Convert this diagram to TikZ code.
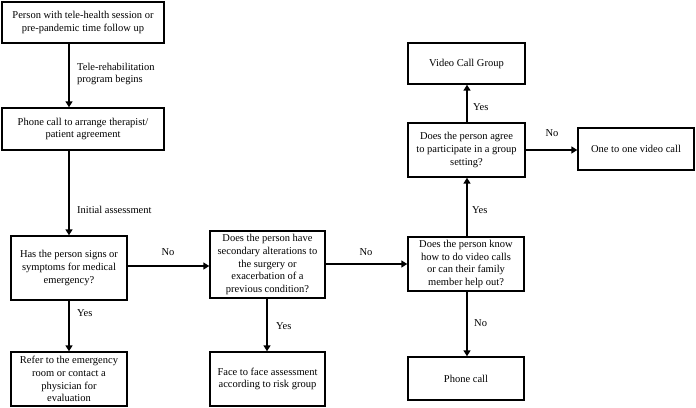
\documentclass[tikz,border=0pt]{standalone}
\usepackage{fontspec}
\setmainfont{Liberation Serif}
\usetikzlibrary{arrows.meta,calc}
\begin{document}
\begin{tikzpicture}[x=1pt,y=-1pt,
  box/.style={draw,line width=1.4pt,align=center,inner sep=2pt,
    font=\fontsize{10.5}{12.8}\selectfont},
  arr/.style={line width=2.8pt,-{Triangle[length=6pt,width=7pt]}},
  lbl/.style={font=\fontsize{10.5}{12.8}\selectfont,inner sep=0pt}]
\useasboundingbox (0,0) rectangle (696,407);
\node[box,minimum width=162pt,minimum height=41pt] (b1) at (83,22.5)
  {Person with tele-health session or\\pre-pandemic time follow up};
\node[box,minimum width=162pt,minimum height=42pt] (b2) at (83,129)
  {Phone call to arrange therapist/\\patient agreement};
\node[box,minimum width=116pt,minimum height=64pt] (b3) at (69,268)
  {Has the person signs or\\symptoms for medical\\emergency?};
\node[box,minimum width=116pt,minimum height=54pt] (b4) at (69,379)
  {Refer to the emergency\\room or contact a\\physician for\\evaluation};
\node[box,minimum width=115pt,minimum height=67pt] (b5) at (267.5,264.5)
  {Does the person have\\secondary alterations to\\the surgery or\\exacerbation of a\\previous condition?};
\node[box,minimum width=115pt,minimum height=54pt] (b6) at (267.5,379)
  {Face to face assessment\\according to risk group};
\node[box,minimum width=116pt,minimum height=54pt] (b7) at (466,264)
  {Does the person know\\how to do video calls\\or can their family\\member help out?};
\node[box,minimum width=116pt,minimum height=43pt] (b8) at (466,378.5)
  {Phone call};
\node[box,minimum width=117pt,minimum height=54pt] (b9) at (466.5,150)
  {Does the person agree\\to participate in a group\\setting?};
\node[box,minimum width=117pt,minimum height=41pt] (b10) at (466.5,63.5)
  {Video Call Group};
\node[box,minimum width=116pt,minimum height=42pt] (b11) at (636,149)
  {One to one video call};
% connectors
\draw[arr] (b1.south -| b3) -- (b2.north -| b3);
\draw[arr] (b2.south -| b3) -- (b3.north);
\draw[arr] (b3.south) -- (b4.north);
\draw[arr] (b3.east |- 0,266) -- (b5.west |- 0,266);
\draw[arr] (b5.south -| 267,0) -- (b6.north -| 267,0);
\draw[arr] (b5.east |- 0,264) -- (b7.west |- 0,264);
\draw[arr] (b7.south -| 467,0) -- (b8.north -| 467,0);
\draw[arr] (b7.north -| 467,0) -- (b9.south -| 467,0);
\draw[arr] (b9.north -| 467,0) -- (b10.south -| 467,0);
\draw[arr] (b9.east) -- (b11.west |- b9.east);
% labels
\node[lbl,anchor=west,align=left] (l1) at (77,74) {Tele-rehabilitation\\program begins};
\node[lbl,anchor=west] (l2) at (77,210) {Initial assessment};
\node[lbl,anchor=west] (l3) at (77,313) {Yes};
\node[lbl] (l4) at (168,252) {No};
\node[lbl,anchor=west] (l5) at (276,326) {Yes};
\node[lbl] (l6) at (366,252) {No};
\node[lbl,anchor=west] (l7) at (474,323) {No};
\node[lbl,anchor=west] (l8) at (472,210) {Yes};
\node[lbl,anchor=west] (l9) at (473,107) {Yes};
\node[lbl] (l10) at (552,133) {No};
\end{tikzpicture}
\end{document}
